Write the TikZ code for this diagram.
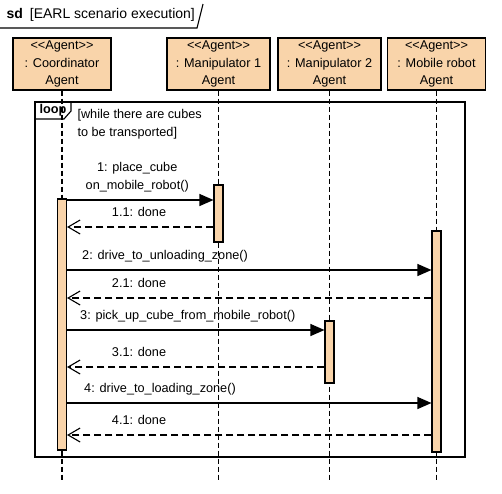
\documentclass[tikz,border=0pt]{standalone}
\usepackage{fontspec}
\setmainfont{Liberation Sans}
\usepackage{tikz}
\usetikzlibrary{arrows.meta}
\definecolor{peach}{RGB}{249,212,170}
\newcommand{\agentst}{<\kern0pt<Agent>\kern0pt>}

\begin{document}
\begin{tikzpicture}[x=1pt,y=-1pt,
    font=\fontsize{12.7}{17.5}\selectfont,
    life/.style={dash pattern=on 5pt off 3pt,line width=1.2pt},
    box/.style={draw,line width=1.2pt,fill=peach,minimum width=98pt,
                minimum height=52pt,align=center,inner sep=1pt},
    act/.style={draw,line width=1.1pt,fill=peach,minimum width=9pt,
                inner sep=0pt},
    msg/.style={-{Triangle[length=14pt,width=12pt]},line width=1.1pt},
    ret/.style={-{Straight Barb[length=12pt,width=14pt]},
                dash pattern=on 7pt off 4pt,line width=1.1pt},
    clbl/.style={pos=0,anchor=base west,xshift=11.3pt,yshift=10.5pt},
    rlbl/.style={pos=1,anchor=base,xshift=72pt,yshift=10.5pt},
    frm/.style={line width=1.1pt},
  ]
  \useasboundingbox (0,0) rectangle (502,493);

    % Title
    \node[anchor=west,font=\fontsize{14}{17}\selectfont] (title) at (3,15)
      {\textbf{sd}\hspace{0.5em}[EARL scenario execution]};
    \draw[frm] (0,28) -- (197,28) -- (203,4);

    % Participants
    \node[box] (coord) at (62,64)  {\agentst\\: Coordinator\\Agent};
    \node[box,minimum width=103pt] (man1) at (218.5,64) {\agentst\\: Manipulator 1\\Agent};
    \node[box,minimum width=103pt] (man2) at (329.5,64) {\agentst\\: Manipulator 2\\Agent};
    \node[box] (robot) at (436.5,64) {\agentst\\: Mobile robot\\Agent};

    % Lifelines
    \foreach \p in {coord,man1,man2,robot}
      \draw[life] (\p.south) -- (\p.south |- 0,480);

    % Fragment loop
    \draw[frm] (35,102) rectangle (465,457);
    \draw[frm] (35,119) -- (64,119) -- (71,111) -- (71,102);
    \node[font=\fontsize{12.7}{15}\selectfont\bfseries] (loop) at (53,110) {loop};
    \node[anchor=north west,align=left] (guard) at (74,106)
      {[while there are cubes\\to be transported]};

    % Activations
    \node[act,minimum height=251pt] (aC)  at (coord.center |- 0,324.5) {};
    \node[act,minimum height=57pt]  (aM1) at (man1.center |- 0,213.5) {};
    \node[act,minimum height=62pt]  (aM2) at (man2.center |- 0,352) {};
    \node[act,minimum height=221pt] (aR)  at (robot.center |- 0,341.5) {};

    % Messages
    \draw[msg] (aC.east |- 0,200) -- (aM1.west |- 0,200)
      node[midway,above,align=center,xshift=-3pt,yshift=4pt]
      {1: place\_cube\\on\_mobile\_robot()};
    \draw[ret] (aM1.west |- 0,227) -- (aC.east |- 0,227)
      node[rlbl] {1.1: done};
    \draw[msg] (aC.east |- 0,270) -- (aR.west |- 0,270)
      node[clbl] {2: drive\_to\_unloading\_zone()};
    \draw[ret] (aR.west |- 0,298) -- (aC.east |- 0,298)
      node[rlbl] {2.1: done};
    \draw[msg] (aC.east |- 0,330) -- (aM2.west |- 0,330)
      node[clbl,xshift=-2pt] {3: pick\_up\_cube\_from\_mobile\_robot()};
    \draw[ret] (aM2.west |- 0,367) -- (aC.east |- 0,367)
      node[rlbl] {3.1: done};
    \draw[msg] (aC.east |- 0,403) -- (aR.west |- 0,403)
      node[clbl,xshift=2pt] {4: drive\_to\_loading\_zone()};
    \draw[ret] (aR.west |- 0,435) -- (aC.east |- 0,435)
      node[rlbl] {4.1: done};

  \end{tikzpicture}
\end{document}
